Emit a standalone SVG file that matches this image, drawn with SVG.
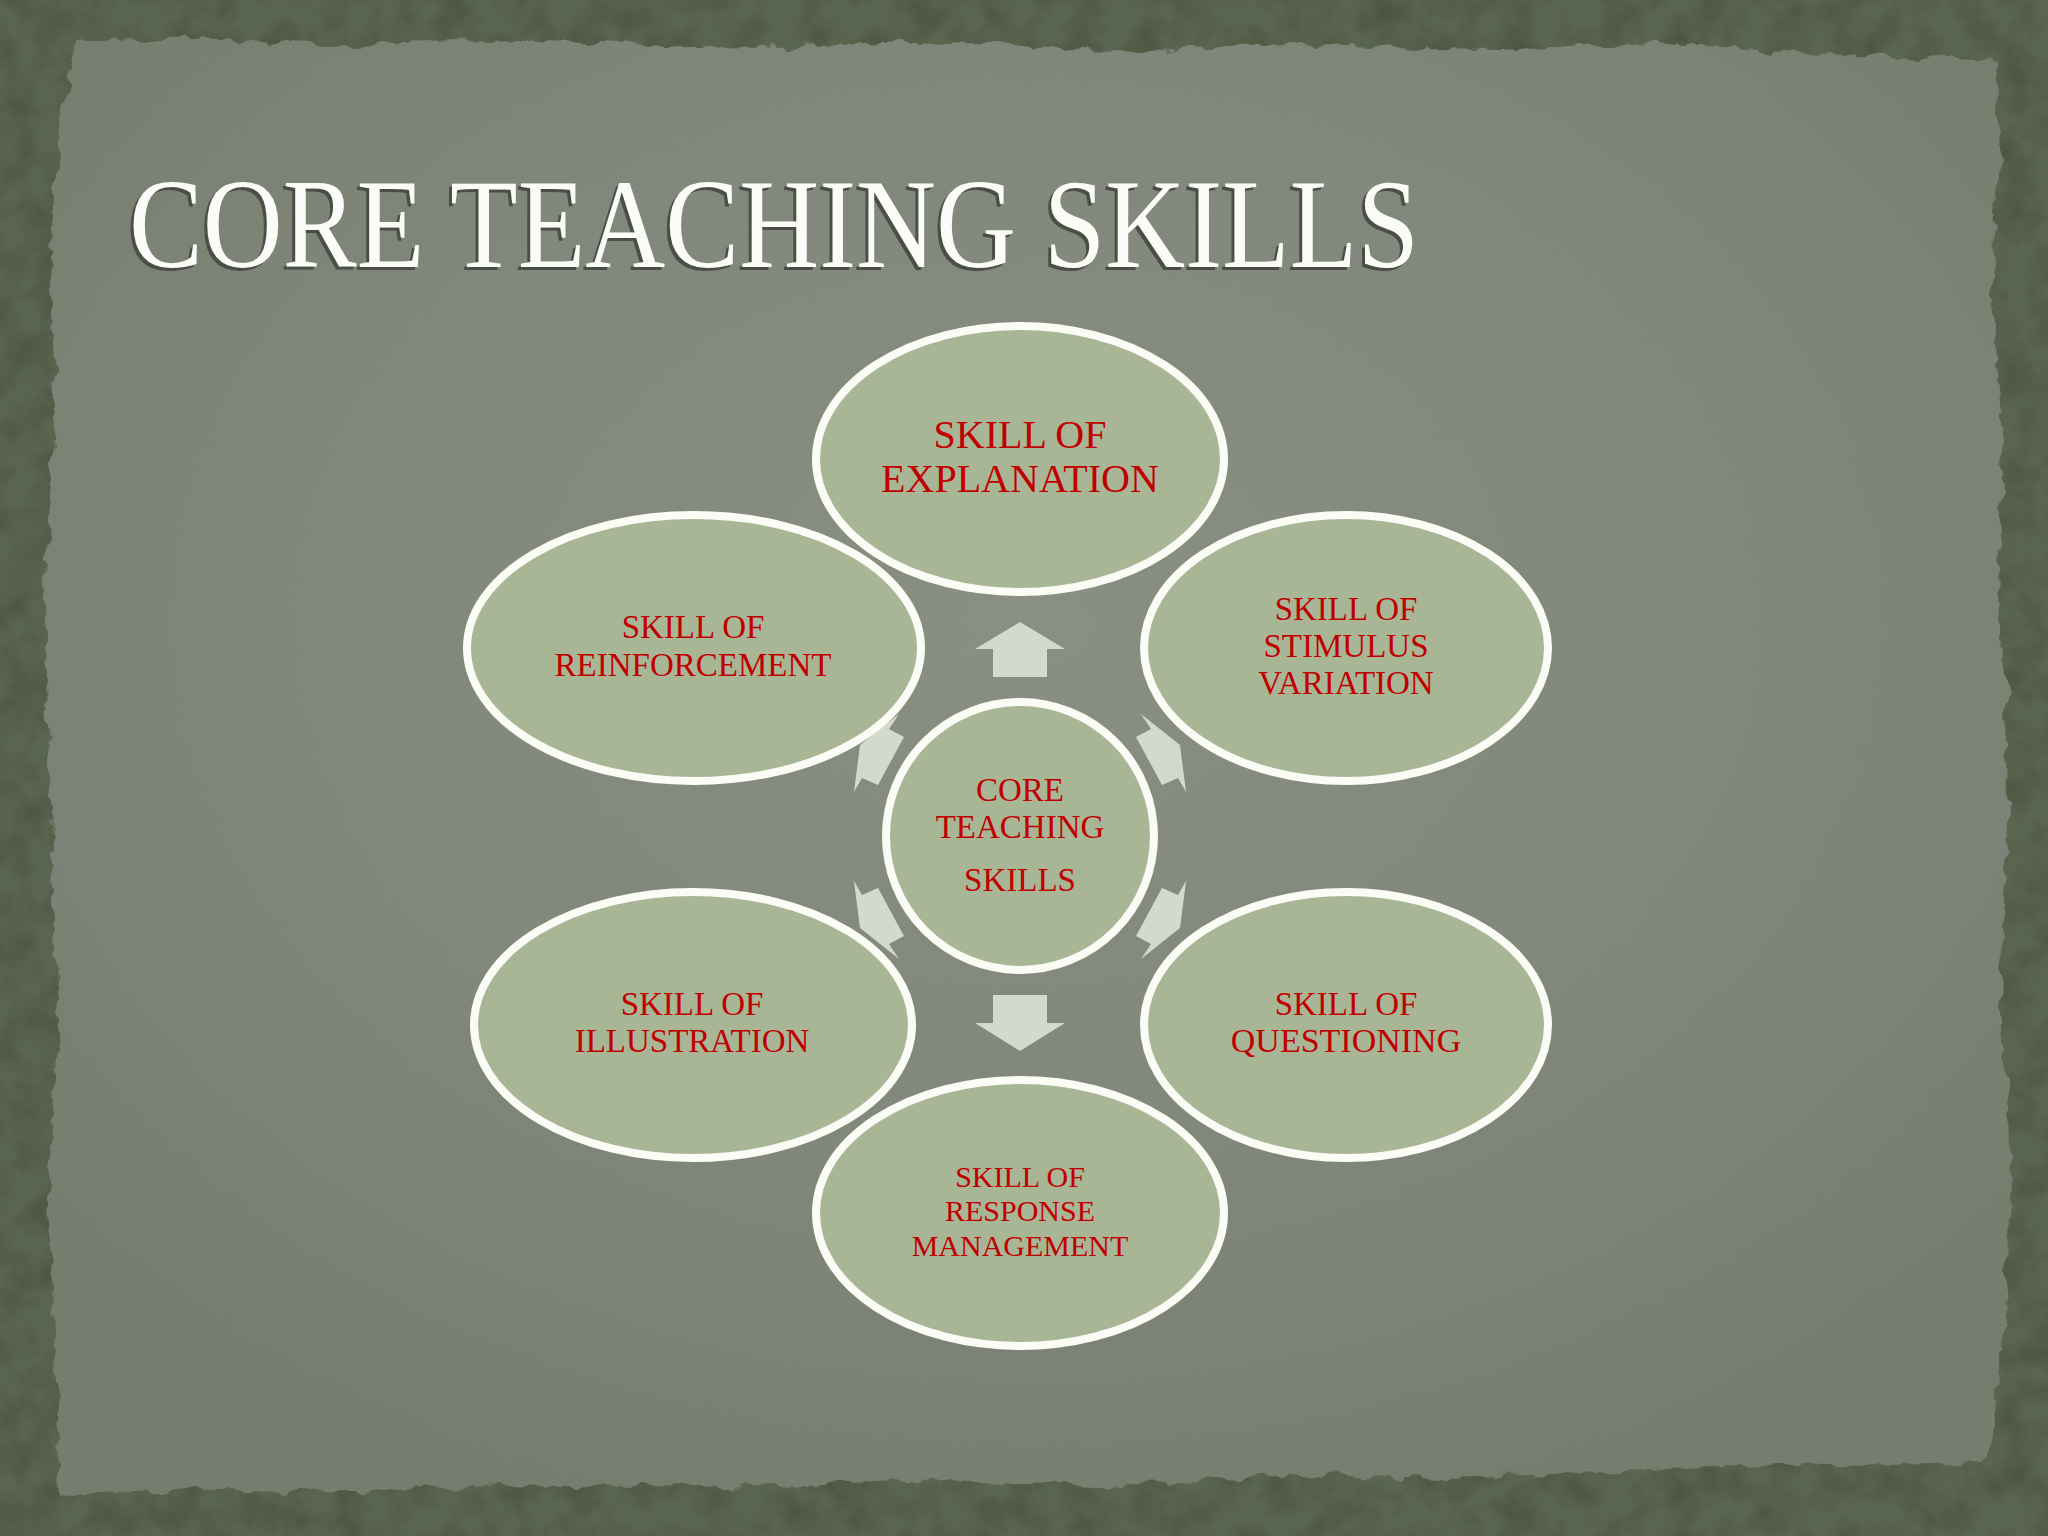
<svg xmlns="http://www.w3.org/2000/svg" width="2048" height="1536" viewBox="0 0 2048 1536">
  <defs>
    <radialGradient id="paperGrad" cx="50%" cy="40%" r="65%">
      <stop offset="0" stop-color="#899082"/>
      <stop offset="0.6" stop-color="#80877a"/>
      <stop offset="1" stop-color="#767d6e"/>
    </radialGradient>
    <filter id="rough" x="-5%" y="-5%" width="110%" height="110%">
      <feTurbulence type="fractalNoise" baseFrequency="0.04" numOctaves="3" seed="4" result="n"/>
      <feDisplacementMap in="SourceGraphic" in2="n" scale="16" xChannelSelector="R" yChannelSelector="G"/>
    </filter>
    <filter id="mottle" x="0" y="0" width="100%" height="100%" color-interpolation-filters="sRGB">
      <feTurbulence type="fractalNoise" baseFrequency="0.03" numOctaves="3" seed="7" result="n"/>
      <feColorMatrix in="n" type="matrix" values="0 0 0 0 0.26  0 0 0 0 0.30  0 0 0 0 0.22  0 0 0 1.2 -0.45" result="m"/>
      <feComposite in="m" in2="SourceGraphic" operator="in"/>
    </filter>
    <style>
      .node { fill: #a8b696; stroke: #fbfcf6; stroke-width: 8; }
      .lbl { font-family: "Liberation Serif", "DejaVu Serif", serif; fill: #c00000; text-anchor: middle; }
      .arrow { fill: #d3dacb; }
      .title { font-family: "Liberation Serif", "DejaVu Serif", serif; font-size: 128px; }
    </style>
  </defs>

  <!-- background -->
  <rect x="0" y="0" width="2048" height="1536" fill="#5a6550"/>
  <rect x="0" y="0" width="2048" height="1536" fill="#5a6550" filter="url(#mottle)"/>
  <path filter="url(#rough)" fill="url(#paperGrad)" d="M75,42 L200,38 L320,46 L400,44 L520,40 L600,41 L700,47 L800,48 L900,43 L1000,42 L1080,50 L1150,52 L1230,45 L1300,44 L1420,49 L1500,50 L1600,44 L1700,45 L1780,52 L1850,55 L1930,57 L1995,62 L2000,150 L1993,300 L2003,450 L1998,600 L2006,700 L2008,800 L2000,1000 L2008,1100 L2010,1200 L2002,1350 L1990,1440 L1985,1462 L1900,1465 L1800,1462 L1650,1470 L1550,1474 L1450,1478 L1300,1475 L1200,1480 L1100,1485 L900,1480 L800,1484 L700,1488 L500,1485 L400,1490 L300,1492 L150,1490 L60,1495 L55,1350 L48,1200 L58,1000 L52,900 L50,800 L45,600 L55,400 L50,250 L62,120 Z"/>

  <!-- title -->
  <g id="title">
    <text class="title" x="126" y="270" textLength="1290" lengthAdjust="spacingAndGlyphs" fill="#4a4f46">CORE TEACHING SKILLS</text>
    <text class="title" x="129" y="267" textLength="1290" lengthAdjust="spacingAndGlyphs" fill="#fbfbf8">CORE TEACHING SKILLS</text>
  </g>

  <!-- connectors -->
  <g id="connectors">
    <polygon class="arrow" points="1020,622 1065,649 1047,649 1047,677 993,677 993,649 975,649"/>
    <polygon class="arrow" points="1020,1051 1065,1023 1047,1023 1047,995 993,995 993,1023 975,1023"/>
    <polygon class="arrow" points="1141,714 1151,729 1136,737 1162,785 1178,778 1186,792 1180,745"/>
    <polygon class="arrow" points="1141,959 1151,944 1136,936 1162,888 1178,895 1186,881 1180,928"/>
    <polygon class="arrow" points="899,714 889,729 904,737 878,785 862,778 854,792 860,745"/>
    <polygon class="arrow" points="899,959 889,944 904,936 878,888 862,895 854,881 860,928"/>
  </g>

  <!-- nodes -->
  <g id="node-explanation">
    <ellipse class="node" cx="1020" cy="459" rx="204" ry="133"/>
    <text class="lbl" font-size="40" x="1020" y="448">SKILL OF</text>
    <text class="lbl" font-size="40" x="1020" y="492">EXPLANATION</text>
  </g>
  <g id="node-reinforcement">
    <ellipse class="node" cx="694" cy="648" rx="227" ry="133"/>
    <text class="lbl" font-size="33" x="693" y="638">SKILL OF</text>
    <text class="lbl" font-size="33" x="693" y="676">REINFORCEMENT</text>
  </g>
  <g id="node-stimulus">
    <ellipse class="node" cx="1346" cy="648" rx="202" ry="133"/>
    <text class="lbl" font-size="33" x="1346" y="620">SKILL OF</text>
    <text class="lbl" font-size="33" x="1346" y="657">STIMULUS</text>
    <text class="lbl" font-size="33" x="1346" y="694">VARIATION</text>
  </g>
  <g id="node-illustration">
    <ellipse class="node" cx="693" cy="1025" rx="219" ry="133"/>
    <text class="lbl" font-size="33" x="692" y="1015">SKILL OF</text>
    <text class="lbl" font-size="33" x="692" y="1052">ILLUSTRATION</text>
  </g>
  <g id="node-questioning">
    <ellipse class="node" cx="1346" cy="1025" rx="202" ry="133"/>
    <text class="lbl" font-size="33" x="1346" y="1015">SKILL OF</text>
    <text class="lbl" font-size="34" x="1346" y="1052">QUESTIONING</text>
  </g>
  <g id="node-response">
    <ellipse class="node" cx="1020" cy="1213" rx="204" ry="133"/>
    <text class="lbl" font-size="30" x="1020" y="1187">SKILL OF</text>
    <text class="lbl" font-size="30" x="1020" y="1221">RESPONSE</text>
    <text class="lbl" font-size="30" x="1020" y="1256">MANAGEMENT</text>
  </g>
  <g id="node-core">
    <circle class="node" cx="1020" cy="836" r="134"/>
    <text class="lbl" font-size="33" x="1020" y="801">CORE</text>
    <text class="lbl" font-size="33" x="1020" y="838">TEACHING</text>
    <text class="lbl" font-size="33" x="1020" y="891">SKILLS</text>
  </g>
</svg>
